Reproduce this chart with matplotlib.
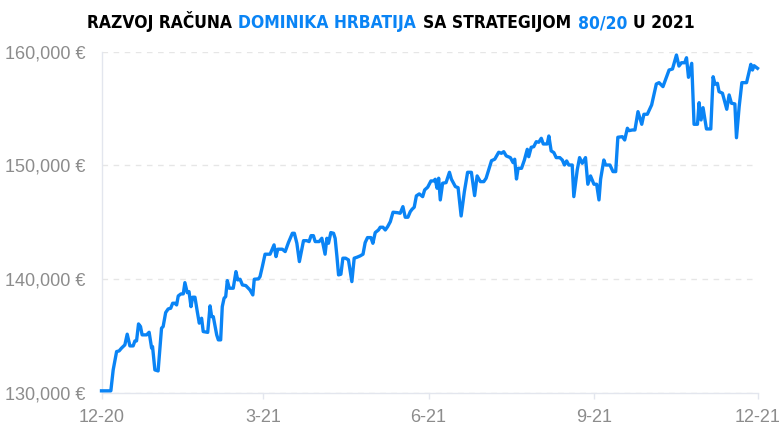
import numpy as np
import pandas as pd
import matplotlib
matplotlib.use('Agg')
import matplotlib.pyplot as plt
from matplotlib.offsetbox import TextArea, HPacker, AnchoredOffsetbox
from matplotlib import font_manager
from matplotlib.font_manager import FontProperties

# ---------------- data ----------------
start_date = '2020-12-01'
days = [0, 5.2, 6.5, 8.4, 9.8, 11.1, 13.0, 14.3, 15.8, 17.6, 18.6, 19.5, 20.6, 21.7, 22.6, 25.1,
        26.5, 27.9, 28.4, 29.7, 31.5, 33.4, 34.3, 35.7, 37.1, 38.5, 39.6, 40.8, 41.8, 42.7, 44.2,
        45.5, 46.4, 47.7, 48.7, 49.8, 50.7, 52.0, 53.3, 54.4, 55.7, 56.6, 59.1, 60.4, 61.3, 62.2,
        64.1, 65.0, 66.3, 67.2, 68.2, 69.1, 70.0, 71.1, 73.3, 74.8, 75.8, 77.1, 78.4, 80.3, 82.6,
        84.2, 85.0, 87.3, 88.2, 89.5, 91.0, 93.8, 96.0, 97.1, 98.1, 100.6, 102.2, 104.0, 106.2,
        107.3, 108.7, 110.1, 112.4, 114.2, 115.5, 116.6, 117.9, 118.9, 121.1, 122.6, 124.4, 125.4,
        126.3, 127.6, 129.1, 130.0, 131.0, 131.9, 133.2, 134.3, 135.8, 137.4, 139.3, 140.6, 142.1,
        143.9, 145.5, 146.7, 148.0, 149.9, 151.0, 152.3, 154.1, 155.1, 156.6, 157.9, 159.2, 160.7,
        162.2, 164.7, 166.2, 167.7, 169.0, 170.5, 171.8, 172.8, 174.0, 175.2, 176.8, 178.7, 179.8,
        181.5, 183.3, 184.8, 185.7, 186.7, 187.6, 188.5, 189.8, 191.7, 193.6, 194.7, 196.9, 198.4,
        200.1, 201.9, 203.7, 205.8, 207.6, 209.0, 210.8, 212.7, 214.0, 217.0, 218.8, 221.0, 222.5,
        223.8, 225.2, 227.5, 229.0, 229.9, 230.9, 231.8, 233.7, 235.3, 236.9, 237.7, 239.1, 240.5,
        241.9, 243.3, 244.7, 245.8, 248.0, 248.9, 250.2, 251.7, 253.0, 255.0, 256.4, 257.6, 258.8,
        260.0, 261.9, 262.8, 264.7, 266.0, 267.5, 269.3, 270.6, 272.1, 274.0, 275.5, 276.8, 277.7,
        279.5, 280.5, 282.9, 284.6, 286.1, 287.3, 289.8, 291.1, 292.6, 293.5, 295.4, 296.8, 298.5,
        300.6, 301.8, 303.7, 306.1, 308.7, 310.2, 312.4, 315.8, 317.7, 319.9, 321.3, 322.7, 324.5,
        325.5, 326.6, 328.4, 329.7, 331.6, 332.5, 333.6, 334.7, 336.6, 339.0, 340.3, 341.4, 342.7,
        343.6, 345.5, 347.9, 349.2, 350.5, 352.4, 353.3, 354.8, 356.3, 358.9, 361.3, 362.2, 363.1,
        365.0]
values = [130190, 130190, 132030, 133640, 133700, 133940, 134230, 135170, 134140, 134140, 134580,
          134580, 136070, 135840, 135110, 135110, 135340, 133940, 134080, 132030, 131940, 135700,
          135840, 137070, 137390, 137450, 137890, 137890, 137740, 138530, 138710, 138710, 139700,
          138820, 138910, 137590, 138420, 138420, 137150, 136140, 136570, 135400, 135330, 137660,
          136710, 136710, 135110, 134670, 134670, 137590, 138330, 138470, 139880, 139210, 139210,
          140670, 139940, 140000, 139500, 139440, 139060, 138620, 140000, 140030, 140230, 141110,
          142200, 142200, 143020, 141990, 142640, 142640, 142430, 143220, 144040, 144040, 143160,
          141550, 143390, 143390, 143310, 143830, 143830, 143310, 143310, 143600, 142200, 143600,
          143160, 144100, 144040, 143600, 141990, 140380, 140440, 141850, 141850, 141700, 139790,
          141850, 141930, 142050, 142200, 143220, 143660, 143660, 143160, 144100, 144330, 144570,
          144570, 144330, 144620, 145060, 145890, 145850, 145800, 146380, 145450, 145450, 145940,
          146150, 146330, 147330, 147500, 147260, 147850, 148090, 148640, 148640, 148790, 148000,
          148880, 146970, 148440, 148490, 149400, 148790, 148140, 148050, 145560, 147700, 149400,
          149400, 147350, 149080, 148580, 148580, 148880, 150420, 150550, 151160, 151070, 151210,
          150840, 150690, 150250, 150550, 148810, 149750, 149750, 150480, 151420, 150770, 151600,
          151650, 152090, 152040, 152390, 151890, 151890, 152590, 151280, 151130, 150690, 150690,
          150480, 150040, 150400, 150040, 150040, 147260, 149610, 150690, 150190, 150690, 148350,
          149080, 148350, 148350, 146970, 148790, 150480, 150040, 150040, 149460, 149460, 152480,
          152530, 152240, 153270, 153060, 153120, 153120, 154730, 153620, 154500, 154500, 155320,
          157160, 157280, 156930, 158390, 158480, 159710, 158740, 159030, 159030, 159470, 157750,
          158980, 153620, 153620, 155520, 154000, 155080, 153210, 153210, 157800, 157140, 157220,
          156490, 156350, 154940, 156200, 155470, 155410, 152440, 155170, 157280, 157280, 158890,
          158390, 158770, 158540]

tick_dates = ['2020-12-01', '2021-03-01', '2021-06-01', '2021-09-01', '2021-12-01']
tick_labels = ['12-20', '3-21', '6-21', '9-21', '12-21']
y_ticks = [130000, 140000, 150000, 160000]
title_parts = ['RAZVOJ RAČUNA', 'DOMINIKA HRBATIJA', 'SA STRATEGIJOM', '80/20', 'U 2021']
title_highlight = [False, True, False, True, False]

# ---------------- style ----------------
BLUE = '#0a84f5'
GRAY = '#8c8c8c'
AXIS = '#e3e6ee'
GRID = '#e6e6e6'
W, H = 783, 433


def pick_title_font():
    """Prefer a bold condensed/narrow face if one is installed."""
    best = None
    best_score = -1
    for f in font_manager.fontManager.ttflist:
        nm = f.name
        st = str(f.stretch).lower()
        cond = ('condensed' in nm.lower() or 'narrow' in nm.lower()
                or 'condensed' in st or st in ('500', '400') and False)
        if not cond:
            try:
                cond = int(f.stretch) < 100
            except Exception:
                cond = False
        if not cond:
            continue
        try:
            w = int(f.weight)
        except Exception:
            w = 700 if 'bold' in str(f.weight).lower() else 400
        score = 0
        if w >= 600:
            score += 10
        if 'extra' in st or 'ultra' in st:
            score += 2
        if 'italic' in str(f.style).lower() or 'oblique' in str(f.style).lower():
            score -= 20
        if score > best_score:
            best_score = score
            best = f
    if best is not None and best_score >= 0:
        return FontProperties(fname=best.fname)
    return FontProperties(family='DejaVu Sans', weight='bold', stretch='condensed')


title_fp = pick_title_font()
tick_font = 'Liberation Sans'

fig = plt.figure(figsize=(7.83, 4.33), dpi=100)
ax = fig.add_axes([101.5 / W, (H - 393) / H, (757.5 - 101.5) / W, (393 - 51.7) / H])

dates = pd.Timestamp(start_date) + pd.to_timedelta(days, unit='D')
ax.plot(dates, values, color=BLUE, lw=2.4, solid_joinstyle='round', clip_on=False, zorder=3)

ax.set_xlim(pd.Timestamp(tick_dates[0]), pd.Timestamp(tick_dates[-1]))
ax.set_ylim(y_ticks[0], y_ticks[-1])

ax.set_yticks(y_ticks)
ax.set_yticklabels([f'{v:,.0f} €' for v in y_ticks], fontname=tick_font, fontsize=13, color=GRAY)
ax.set_xticks(pd.to_datetime(tick_dates))
ax.set_xticklabels(tick_labels, fontname=tick_font, fontsize=13, color=GRAY)

ax.tick_params(axis='y', length=0, pad=11.5)
ax.tick_params(axis='x', length=4.3, width=1, color=AXIS, pad=7.5)

for s in ['top', 'right']:
    ax.spines[s].set_visible(False)
for s in ['left', 'bottom']:
    ax.spines[s].set_color(AXIS)
    ax.spines[s].set_linewidth(1)

ax.yaxis.grid(True, color=GRID, lw=1, linestyle=(0, (4, 4)))
ax.set_axisbelow(True)


# ---------------- title ----------------
def make_title(fs):
    fp = title_fp.copy()
    fp.set_size(fs)
    try:
        fp.set_weight('bold')
    except Exception:
        pass
    areas = [TextArea(t, textprops=dict(color=BLUE if hl else 'black', fontproperties=fp))
             for t, hl in zip(title_parts, title_highlight)]
    box = HPacker(children=areas, align='baseline', pad=0, sep=fs * 0.38)
    anch = AnchoredOffsetbox(loc='center', child=box, pad=0, frameon=False,
                             bbox_to_anchor=(391 / W, (H - 22) / H),
                             bbox_transform=fig.transFigure)
    fig.add_artist(anch)
    return anch


fs = 17.0
anch = make_title(fs)
renderer = fig.canvas.get_renderer()
for _ in range(2):
    width = anch.get_window_extent(renderer).width
    anch.remove()
    fs = fs * 606.0 / width
    anch = make_title(fs)

fig.savefig('out.png', dpi=100)
